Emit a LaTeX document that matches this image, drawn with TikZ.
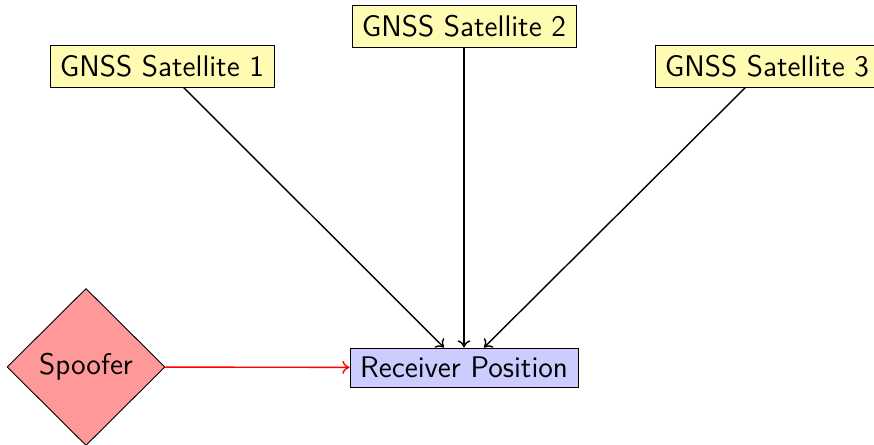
\documentclass[tikz,border=0pt]{standalone}
\usetikzlibrary{shapes.geometric,arrows.meta}
\begin{document}
\begin{tikzpicture}[x=0.5pt,y=-0.5pt,
  font=\sffamily\fontsize{14.9}{17}\selectfont,
  every node/.style={line width=0.45pt},
  sat/.style={draw, fill=yellow!30, minimum width=112pt, minimum height=21pt, inner sep=1pt},
  recv/.style={draw, fill=blue!20, minimum width=114pt, minimum height=19.5pt, inner sep=1pt},
  spoof/.style={draw, fill=red!40, diamond, minimum width=79pt, minimum height=78.5pt, inner sep=0pt},
  link/.style={-{To[length=3.6pt,width=6.5pt]}, line width=0.7pt}
]
\clip (0,0) rectangle (874,445);
\useasboundingbox (0,0) rectangle (874,445);
\node[sat] (s1) at (162,66) {GNSS Satellite 1};
\node[sat] (s2) at (464,26) {GNSS Satellite 2};
\node[sat] (s3) at (767,66) {GNSS Satellite 3};
\node[recv] (r) at (464,367.5) {Receiver Position};
\node[spoof] (sp) at (86,367) {Spoofer};
\draw[link] (s1) -- (r);
\draw[link] (s2) -- (r);
\draw[link] (s3) -- (r);
\draw[link, red] (sp) -- (r);
\end{tikzpicture}
\end{document}
